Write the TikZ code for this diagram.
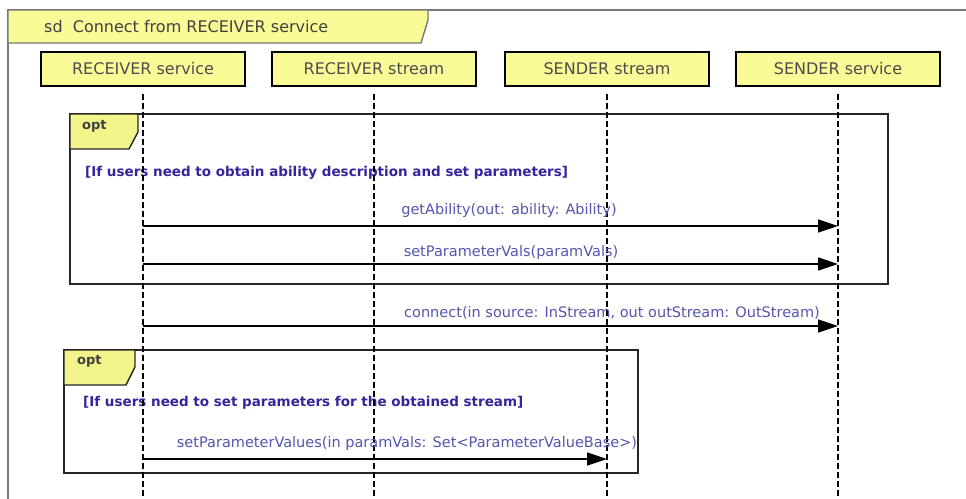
\documentclass[tikz,border=0pt]{standalone}
\usepackage{fontspec}
\setmainfont{DejaVu Sans}
\usetikzlibrary{arrows.meta}
\definecolor{boxyellow}{RGB}{250,250,150}
\definecolor{tagyellow}{RGB}{244,244,140}
\definecolor{msgblue}{RGB}{85,85,175}
\definecolor{guardblue}{RGB}{55,35,155}
\definecolor{framegray}{RGB}{120,120,120}
\tikzset{
  headbox/.style={draw=black, line width=2pt, fill=boxyellow, minimum width=204pt, minimum height=34pt, inner sep=0pt, font=\fontsize{16}{18}\selectfont, text=black!70},
  lifeline/.style={draw=black, line width=1.6pt, dash pattern=on 6pt off 3pt},
  msgarrow/.style={draw=black, line width=1.6pt, -{Triangle[length=20pt,width=13pt]}},
  msglabel/.style={text=msgblue, font=\fontsize{14.5}{16}\selectfont, inner sep=1pt},
  guardlabel/.style={text=guardblue, font=\fontsize{13.5}{15}\selectfont\bfseries, inner sep=1pt, anchor=west},
  optframe/.style={draw=black!85, line width=1.7pt},
  opttag/.style={draw=black!85, line width=1.4pt, fill=tagyellow},
  optlabel/.style={font=\fontsize{13}{14}\selectfont\bfseries, text=black!75, anchor=west, inner sep=0pt},
}
\begin{document}
\begin{tikzpicture}[x=1pt,y=-1pt]
\useasboundingbox (0,0) rectangle (966,498);
% outer sd frame
\draw[framegray, line width=1.8pt] (8,500) -- (8,10) -- (970,10);
\draw[framegray, line width=1.4pt, fill=boxyellow] (8,10) -- (428,10) -- (428,20) -- (421,43) -- (8,43) -- cycle;
\node[anchor=west, font=\fontsize{16}{18}\selectfont, text=black!75, inner sep=0pt] (title) at (44,27) {sd\ \ Connect from RECEIVER service};
% lifeline heads
\node[headbox] (h1) at (143,69) {RECEIVER service};
\node[headbox] (h2) at (374,69) {RECEIVER stream};
\node[headbox] (h3) at (607,69) {SENDER stream};
\node[headbox] (h4) at (838,69) {SENDER service};
% opt frame 1
\draw[optframe] (70,114) rectangle (888,284);
\draw[opttag] (70,114) -- (138,114) -- (138,132) -- (129,149) -- (70,149) -- cycle;
\node[optlabel] (opt1) at (82,126) {opt};
\node[guardlabel] (g1) at (84,173) {[If users need to obtain ability description and set parameters]};
% opt frame 2
\draw[optframe] (64,350) rectangle (638,473);
\draw[opttag] (64,350) -- (135,350) -- (135,367) -- (126,385) -- (64,385) -- cycle;
\node[optlabel] (opt2) at (77,361) {opt};
\node[guardlabel] (g2) at (82,403) {[If users need to set parameters for the obtained stream]};
% lifelines
\foreach \i in {1,2,3,4}{
  \coordinate (top\i) at ([yshift=-7pt]h\i.south);
  \coordinate (bot\i) at (h\i |- 0,500);
  \draw[lifeline] (top\i) -- (bot\i);
}
% messages
\coordinate (m1a) at (h1 |- 0,226); \coordinate (m1b) at (h4 |- 0,226);
\coordinate (m2a) at (h1 |- 0,264); \coordinate (m2b) at (h4 |- 0,264);
\coordinate (m3a) at (h1 |- 0,326); \coordinate (m3b) at (h4 |- 0,326);
\coordinate (m4a) at (h1 |- 0,459); \coordinate (m4b) at (h3 |- 0,459);
\draw[msgarrow] (m1a) -- (m1b);
\draw[msgarrow] (m2a) -- (m2b);
\draw[msgarrow] (m3a) -- (m3b);
\draw[msgarrow] (m4a) -- (m4b);
\node[msglabel] (l1) at (509,210) {getAbility(out: ability: Ability)};
\node[msglabel] (l2) at (511,252) {setParameterVals(paramVals)};
\node[msglabel] (l3) at (612,313) {connect(in source: InStream, out outStream: OutStream)};
\node[msglabel] (l4) at (407,443) {setParameterValues(in paramVals: Set<ParameterValueBase>)};
\end{tikzpicture}
\end{document}
